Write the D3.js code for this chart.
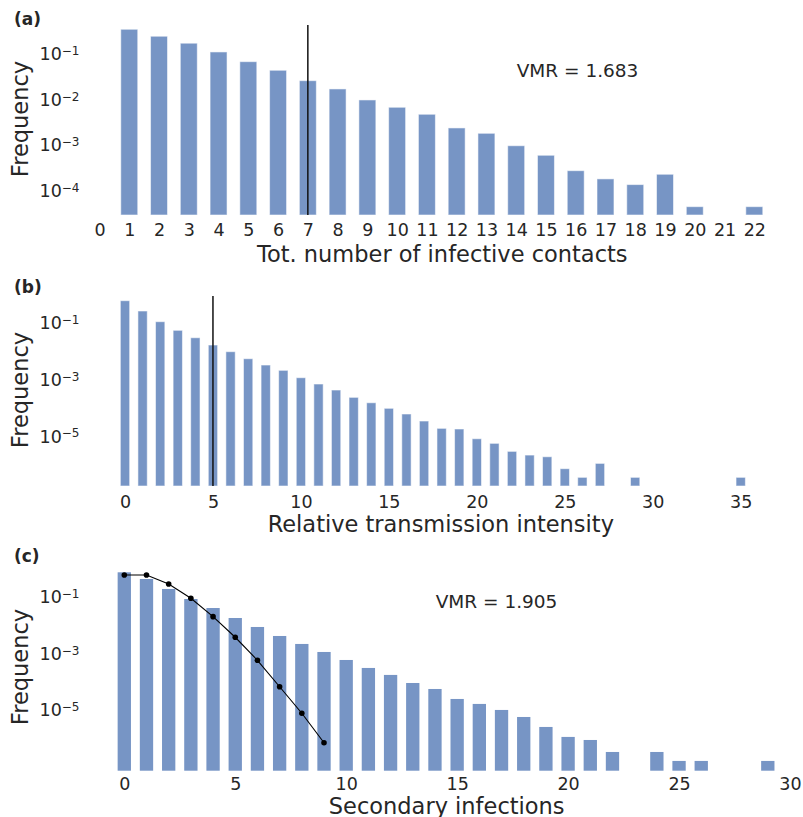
<!DOCTYPE html>
<html>
<head>
<meta charset="utf-8">
<script src="https://cdn.jsdelivr.net/npm/d3@7"></script>
<style>
  body { margin: 0; background: #fff; }
  svg { display: block; font-family: "DejaVu Sans", sans-serif; }
</style>
</head>
<body>
<svg id="chart" width="803" height="817"></svg>
<script>
// (a) total number of infective contacts, x = 1..22
const aX = d3.range(1, 23)
const aFreq = [0.283, 0.199, 0.14, 0.09, 0.0551, 0.0357, 0.0211, 0.0139, 0.00797, 0.00551,
  0.00387, 0.00194, 0.00148, 0.00079, 0.000488, 0.000224, 0.000148, 0.000111, 0.000187,
  3.64e-5, null, 3.64e-5]
const aXTicks = d3.range(0, 23)
const aYTicks = [1e-1, 1e-2, 1e-3, 1e-4]
const aMarker = 7
const aVmr = 'VMR = 1.683'

// (b) relative transmission intensity, x = 0..35
const bX = d3.range(0, 36)
const bFreq = [0.427, 0.185, 0.0778, 0.0387, 0.0212, 0.01175, 0.00684, 0.00387, 0.00232, 0.00151,
  0.00083, 0.000498, 0.000306, 0.000169, 0.000109, 6.95e-5, 4.38e-5, 2.48e-5, 1.37e-5, 1.3e-5,
  5.9e-6, 4.06e-6, 2.12e-6, 1.57e-6, 1.37e-6, 5.2e-7, 2.58e-7, 8.0e-7, null, 2.58e-7,
  null, null, null, null, null, 2.58e-7]
const bXTicks = [0, 5, 10, 15, 20, 25, 30, 35]
const bYTicks = [1e-1, 1e-3, 1e-5]
const bMarker = 5

// (c) secondary infections, x = 0..29, plus fitted curve for x = 0..9
const cX = d3.range(0, 30)
const cFreq = [0.514, 0.299, 0.133, 0.059, 0.0284, 0.01264, 0.0061, 0.00294, 0.00154, 0.000804,
  0.00042, 0.00022, 0.000125, 6.5e-5, 4.0e-5, 1.78e-5, 1.19e-5, 7.3e-6, 4.13e-6, 1.84e-6,
  8.2e-7, 6.4e-7, 2.42e-7, null, 2.42e-7, 1.17e-7, 1.17e-7, null, null, 1.17e-7]
const cFitX = d3.range(0, 10)
const cFit = [0.413, 0.413, 0.199, 0.0625, 0.0141, 0.00265, 0.00041, 4.8e-5, 5.6e-6, 5.1e-7]
const cXTicks = [0, 5, 10, 15, 20, 25, 30]
const cYTicks = [1e-1, 1e-3, 1e-5]
const cVmr = 'VMR = 1.905'

const barColor = '#7795c5'
const textColor = '#262626'
const svg = d3.select('#chart')

function drawPanel(p) {
  const g = svg.append('g')

  const x = d3.scaleLinear().domain(p.xDomain).range(p.xRange)
  const y = d3.scaleLog().domain(p.yDomain).range([p.bottom, p.top])
  const bw = x(p.barWidth) - x(0)

  const data = p.xs.map((d, i) => ({ x: d, v: p.freq[i] })).filter(d => d.v != null)

  g.selectAll('rect.bar')
    .data(data)
    .enter()
    .append('rect')
    .attr('class', 'bar')
    .attr('x', d => x(d.x) - bw / 2)
    .attr('y', d => y(d.v))
    .attr('width', bw)
    .attr('height', d => p.bottom - y(d.v))
    .attr('fill', barColor)
    .attr('stroke', p.edge ? 'rgba(255,255,255,0.55)' : 'none')
    .attr('stroke-width', 1)

  if (p.marker != null) {
    g.append('line')
      .attr('x1', x(p.marker)).attr('x2', x(p.marker))
      .attr('y1', p.top).attr('y2', p.bottom)
      .attr('stroke', '#111')
      .attr('stroke-width', 1.5)
  }

  if (p.fit) {
    const pts = p.fit.xs.map((d, i) => ({ x: d, v: p.fit.v[i] }))
    g.append('path')
      .datum(pts)
      .attr('fill', 'none')
      .attr('stroke', '#000')
      .attr('stroke-width', 1.1)
      .attr('d', d3.line().x(d => x(d.x)).y(d => y(d.v)))
    g.selectAll('circle.fit')
      .data(pts)
      .enter()
      .append('circle')
      .attr('class', 'fit')
      .attr('cx', d => x(d.x))
      .attr('cy', d => y(d.v))
      .attr('r', 2.8)
      .attr('fill', '#000')
  }

  // x axis
  const xa = g.append('g')
    .attr('transform', `translate(0, ${p.xTickTop})`)
    .call(d3.axisBottom(x).tickValues(p.xTicks).tickSize(0).tickPadding(0).tickFormat(d3.format('d')))
  xa.select('.domain').remove()
  xa.selectAll('text')
    .attr('fill', textColor)
    .style('font-size', '17.5px')
    .style('font-family', '"DejaVu Sans", sans-serif')

  // y axis with 10^n labels
  const ya = g.append('g')
    .attr('transform', 'translate(79.5, 0)')
    .call(d3.axisLeft(y).tickValues(p.yTicks).tickSize(0).tickPadding(0))
  ya.select('.domain').remove()
  ya.selectAll('text')
    .attr('fill', textColor)
    .attr('dy', '0.56em')
    .style('font-size', '17.5px')
    .style('font-family', '"DejaVu Sans", sans-serif')
    .each(function (d) {
      const t = d3.select(this)
      const e = Math.round(Math.log10(d))
      t.text('')
      t.append('tspan').text('10')
      t.append('tspan')
        .attr('dy', '-0.42em')
        .style('font-size', '12px')
        .text('\u2212' + Math.abs(e))
    })

  // labels
  svg.append('text')
    .attr('x', 14).attr('y', p.tagY)
    .attr('fill', textColor)
    .style('font-size', '17px')
    .style('font-weight', 'bold')
    .text(p.tag)

  svg.append('text')
    .attr('transform', `translate(28, ${p.yLabelY}) rotate(-90)`)
    .attr('text-anchor', 'middle')
    .attr('fill', textColor)
    .style('font-size', '22.5px')
    .text('Frequency')

  svg.append('text')
    .attr('x', p.xLabelX).attr('y', p.xLabelY)
    .attr('text-anchor', 'middle')
    .attr('fill', textColor)
    .style('font-size', '22.5px')
    .text(p.xLabel)

  if (p.vmr) {
    svg.append('text')
      .attr('x', p.vmrX).attr('y', p.vmrY)
      .attr('fill', textColor)
      .style('font-size', '18.5px')
      .text(p.vmr)
  }
}

drawPanel({
  tag: '(a)', tagY: 24.5,
  xs: aX, freq: aFreq, barWidth: 0.57, edge: true,
  xDomain: [0, 22], xRange: [99.5, 754.3],
  yDomain: [2.39e-5, 0.351], top: 25, bottom: 215,
  xTicks: aXTicks, yTicks: aYTicks, xTickTop: 224,
  marker: aMarker,
  yLabelY: 119, xLabel: 'Tot. number of infective contacts', xLabelX: 442.3, xLabelY: 261.5,
  vmr: aVmr, vmrX: 516.7, vmrY: 77.3
})

drawPanel({
  tag: '(b)', tagY: 292.8,
  xs: bX, freq: bFreq, barWidth: 0.53, edge: true,
  xDomain: [0, 35], xRange: [125, 740.7],
  yDomain: [1.28e-7, 0.625], top: 296, bottom: 486,
  xTicks: bXTicks, yTicks: bYTicks, xTickTop: 495.5,
  marker: bMarker,
  yLabelY: 390, xLabel: 'Relative transmission intensity', xLabelX: 440.8, xLabelY: 532
})

drawPanel({
  tag: '(c)', tagY: 561.8,
  xs: cX, freq: cFreq, barWidth: 0.6, edge: false,
  xDomain: [0, 30], xRange: [124.3, 790],
  yDomain: [5.3e-8, 0.929], top: 565, bottom: 770.7,
  xTicks: cXTicks, yTicks: cYTicks, xTickTop: 777.3,
  fit: { xs: cFitX, v: cFit },
  yLabelY: 667, xLabel: 'Secondary infections', xLabelX: 446.7, xLabelY: 813.5,
  vmr: cVmr, vmrX: 435.7, vmrY: 608.3
})
</script>
</body>
</html>
